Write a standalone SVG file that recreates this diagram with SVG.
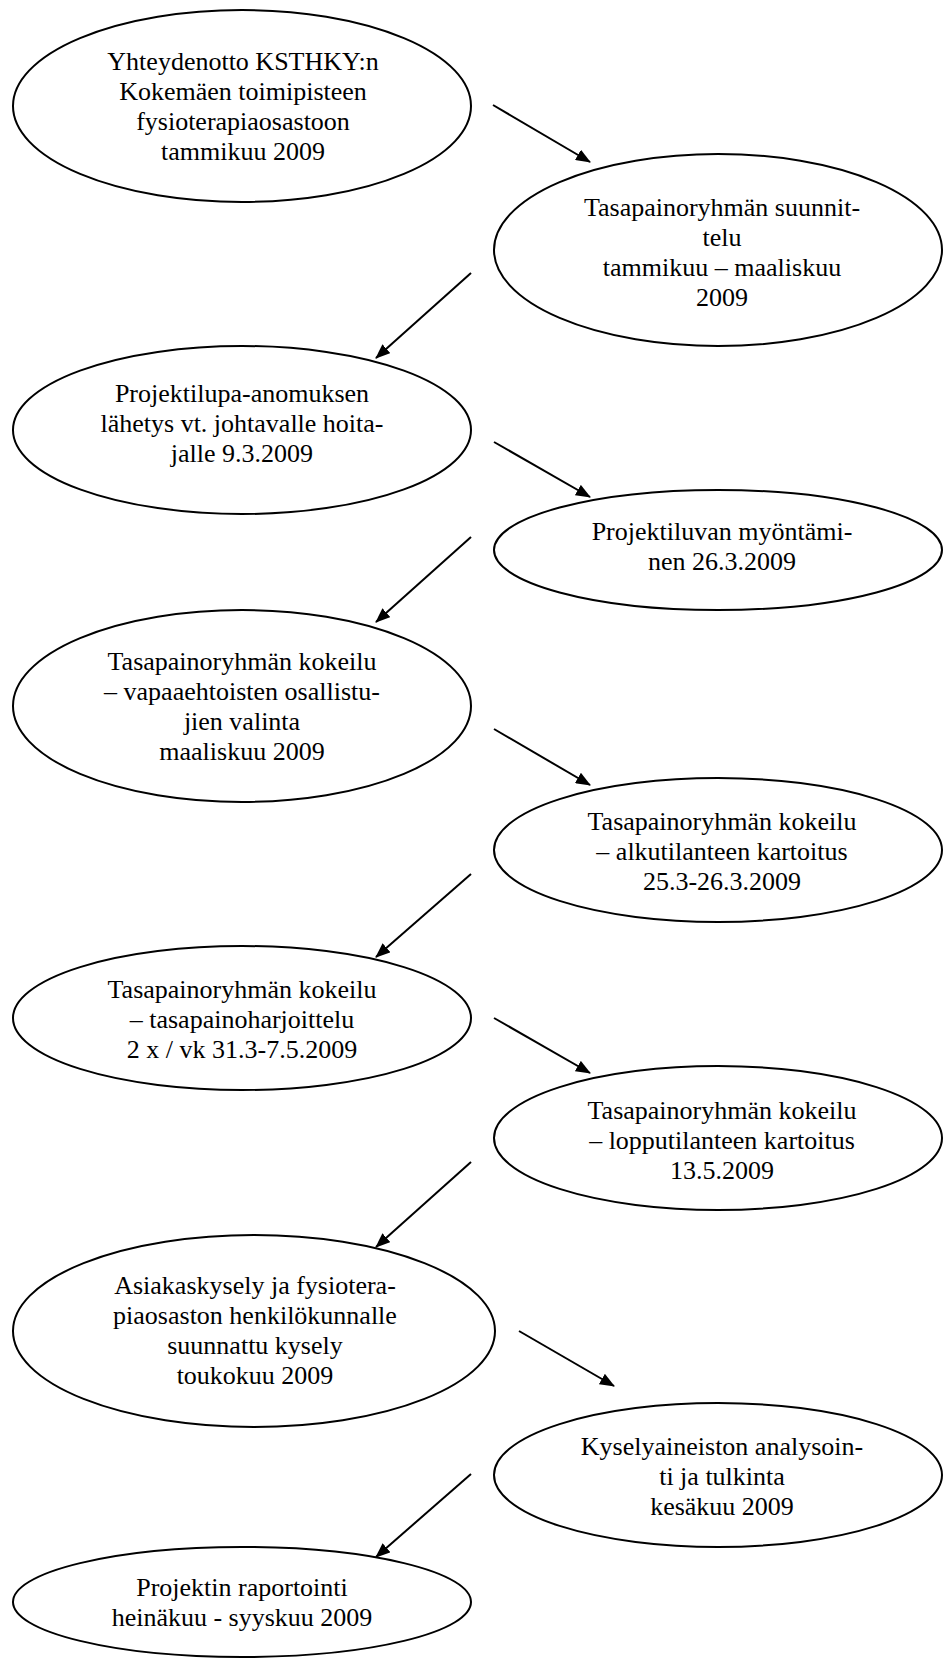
<svg xmlns="http://www.w3.org/2000/svg" width="944" height="1660" viewBox="0 0 944 1660">
  <style>
    .node ellipse { fill: #ffffff; stroke: #000000; stroke-width: 2; }
    .node text { font-size: 26px; fill: #000000; text-anchor: middle; }
    .edges line { stroke: #000000; stroke-width: 2; marker-end: url(#arrow); }
  </style>
  <defs>
    <marker id="arrow" markerUnits="userSpaceOnUse" viewBox="0 0 15 12" markerWidth="15" markerHeight="12" refX="14" refY="6" orient="auto">
      <path d="M0,0 L15,6 L0,12 z" fill="#000000"/>
    </marker>
  </defs>
  <rect width="944" height="1660" fill="#ffffff"/>

  <g id="nodes" font-family="'Liberation Serif', 'DejaVu Serif', serif">
  <g id="n1" class="node">
    <ellipse cx="242" cy="106" rx="229" ry="96"/>
    <text x="243" y="70">Yhteydenotto KSTHKY:n</text>
    <text x="243" y="100">Kokemäen toimipisteen</text>
    <text x="243" y="130">fysioterapiaosastoon</text>
    <text x="243" y="160">tammikuu 2009</text>
  </g>

  <g id="n2" class="node">
    <ellipse cx="718" cy="250" rx="224" ry="96"/>
    <text x="722" y="216">Tasapainoryhmän suunnit-</text>
    <text x="722" y="246">telu</text>
    <text x="722" y="276">tammikuu – maaliskuu</text>
    <text x="722" y="306">2009</text>
  </g>

  <g id="n3" class="node">
    <ellipse cx="242" cy="430" rx="229" ry="84"/>
    <text x="242" y="402">Projektilupa-anomuksen</text>
    <text x="242" y="432">lähetys vt. johtavalle hoita-</text>
    <text x="242" y="462">jalle 9.3.2009</text>
  </g>

  <g id="n4" class="node">
    <ellipse cx="718" cy="550" rx="224" ry="60"/>
    <text x="722" y="540">Projektiluvan myöntämi-</text>
    <text x="722" y="570">nen 26.3.2009</text>
  </g>

  <g id="n5" class="node">
    <ellipse cx="242" cy="706" rx="229" ry="96"/>
    <text x="242" y="670">Tasapainoryhmän kokeilu</text>
    <text x="242" y="700">– vapaaehtoisten osallistu-</text>
    <text x="242" y="730">jien valinta</text>
    <text x="242" y="760">maaliskuu 2009</text>
  </g>

  <g id="n6" class="node">
    <ellipse cx="718" cy="850" rx="224" ry="72"/>
    <text x="722" y="830">Tasapainoryhmän kokeilu</text>
    <text x="722" y="860">– alkutilanteen kartoitus</text>
    <text x="722" y="890">25.3-26.3.2009</text>
  </g>

  <g id="n7" class="node">
    <ellipse cx="242" cy="1018" rx="229" ry="72"/>
    <text x="242" y="998">Tasapainoryhmän kokeilu</text>
    <text x="242" y="1028">– tasapainoharjoittelu</text>
    <text x="242" y="1058">2 x / vk 31.3-7.5.2009</text>
  </g>

  <g id="n8" class="node">
    <ellipse cx="718" cy="1138" rx="224" ry="72"/>
    <text x="722" y="1119">Tasapainoryhmän kokeilu</text>
    <text x="722" y="1149">– lopputilanteen kartoitus</text>
    <text x="722" y="1179">13.5.2009</text>
  </g>

  <g id="n9" class="node">
    <ellipse cx="254" cy="1331" rx="241" ry="96"/>
    <text x="255" y="1294">Asiakaskysely ja fysiotera-</text>
    <text x="255" y="1324">piaosaston henkilökunnalle</text>
    <text x="255" y="1354">suunnattu kysely</text>
    <text x="255" y="1384">toukokuu 2009</text>
  </g>

  <g id="n10" class="node">
    <ellipse cx="718" cy="1475" rx="224" ry="72"/>
    <text x="722" y="1455">Kyselyaineiston analysoin-</text>
    <text x="722" y="1485">ti ja tulkinta</text>
    <text x="722" y="1515">kesäkuu 2009</text>
  </g>

  <g id="n11" class="node">
    <ellipse cx="242" cy="1602" rx="229" ry="55"/>
    <text x="242" y="1596">Projektin raportointi</text>
    <text x="242" y="1626">heinäkuu - syyskuu 2009</text>
  </g>
  </g>

  <g id="edges" class="edges">
    <line x1="493" y1="105" x2="590" y2="162"/>
    <line x1="471" y1="273" x2="376" y2="358"/>
    <line x1="494" y1="442" x2="590" y2="497"/>
    <line x1="471" y1="537" x2="376" y2="622"/>
    <line x1="494" y1="729" x2="590" y2="785"/>
    <line x1="471" y1="874" x2="376" y2="957"/>
    <line x1="494" y1="1018" x2="590" y2="1073"/>
    <line x1="471" y1="1162" x2="376" y2="1247"/>
    <line x1="519" y1="1331" x2="614" y2="1386"/>
    <line x1="471" y1="1474" x2="376" y2="1557"/>
  </g>
</svg>
